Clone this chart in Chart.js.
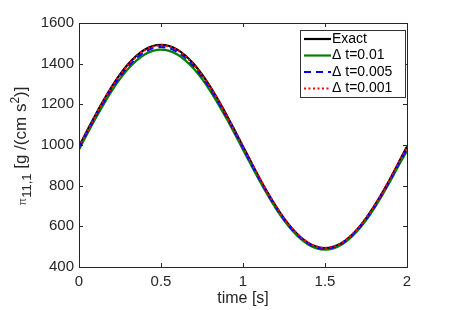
<!DOCTYPE html>
<html>
<head>
<meta charset="utf-8">
<script src="https://cdn.jsdelivr.net/npm/chart.js@4"></script>
<style>
  html, body { margin: 0; padding: 0; background: #fff; }
  #wrap { width: 449px; height: 310px; }
</style>
</head>
<body>
<div id="wrap"><canvas id="chart"></canvas></div>
<script>
const times = [0, 0.05, 0.1, 0.15, 0.2, 0.25, 0.3, 0.35, 0.4, 0.45, 0.5, 0.55, 0.6, 0.65, 0.7, 0.75, 0.8, 0.85, 0.9, 0.95,
  1, 1.05, 1.1, 1.15, 1.2, 1.25, 1.3, 1.35, 1.4, 1.45, 1.5, 1.55, 1.6, 1.65, 1.7, 1.75, 1.8, 1.85, 1.9, 1.95, 2];

const exactVals = [993, 1071, 1148, 1220, 1287, 1347, 1398, 1439, 1469, 1487, 1493, 1487, 1469, 1439, 1398, 1347, 1287, 1220, 1148, 1071,
  993, 915, 838, 766, 699, 639, 588, 547, 517, 499, 493, 499, 517, 547, 588, 639, 699, 766, 838, 915, 993];
const dt01Vals = [977, 1054, 1129, 1200, 1266, 1325, 1375, 1415, 1445, 1463, 1469, 1463, 1445, 1415, 1375, 1325, 1266, 1200, 1129, 1054,
  977, 900, 825, 754, 688, 629, 579, 539, 509, 491, 485, 491, 509, 539, 579, 629, 688, 754, 825, 900, 970];
const dt005Vals = [986, 1064, 1139, 1211, 1278, 1337, 1387, 1428, 1458, 1476, 1482, 1476, 1458, 1428, 1387, 1337, 1278, 1211, 1139, 1064,
  986, 908, 833, 761, 694, 635, 585, 544, 514, 496, 490, 496, 514, 544, 585, 635, 694, 761, 833, 908, 982];
const dt001Vals = [992, 1070, 1146, 1218, 1285, 1344, 1395, 1436, 1466, 1484, 1490, 1484, 1466, 1436, 1395, 1344, 1285, 1218, 1146, 1070,
  992, 914, 838, 766, 699, 640, 589, 548, 518, 500, 494, 500, 518, 548, 589, 640, 699, 766, 838, 914, 990];

const xTicks = [0, 0.5, 1, 1.5, 2];
const yTicks = [400, 600, 800, 1000, 1200, 1400, 1600];
const seriesLabels = ["Exact", "\u0394 t=0.01", "\u0394 t=0.005", "\u0394 t=0.001"];

const axisColor = "#262626";
const fontFam = "'Liberation Sans', Arial, sans-serif";

function toPoints(vals) {
  return times.map((t, i) => ({ x: t, y: vals[i] }));
}

const seriesStyles = [
  { color: "#000000", dash: [], width: 2.2, order: 4 },
  { color: "#008000", dash: [], width: 2.2, order: 3 },
  { color: "#0000ff", dash: [7, 5], width: 2.2, order: 2 },
  { color: "#ff0000", dash: [2, 2.5], width: 2.2, order: 1 }
];
const seriesVals = [exactVals, dt01Vals, dt005Vals, dt001Vals];

const datasets = seriesVals.map((vals, i) => ({
  label: seriesLabels[i],
  data: toPoints(vals),
  borderColor: seriesStyles[i].color,
  borderDash: seriesStyles[i].dash,
  borderWidth: seriesStyles[i].width,
  pointRadius: 0,
  tension: 0.3,
  fill: false,
  order: seriesStyles[i].order
}));

// box, inward ticks, legend and y title in MATLAB style
const matlabDecor = {
  id: "matlabDecor",
  afterDraw(chart) {
    const ctx = chart.ctx;
    const a = chart.chartArea;
    const xs = chart.scales.x;
    const ys = chart.scales.y;
    ctx.save();
    ctx.strokeStyle = axisColor;
    ctx.lineWidth = 1;
    ctx.setLineDash([]);
    ctx.strokeRect(a.left + 0.5, a.top + 0.5, a.right - a.left, a.bottom - a.top);
    const tl = 4;
    ctx.beginPath();
    xTicks.forEach((v) => {
      const px = Math.round(xs.getPixelForValue(v)) + 0.5;
      ctx.moveTo(px, a.bottom); ctx.lineTo(px, a.bottom - tl);
      ctx.moveTo(px, a.top); ctx.lineTo(px, a.top + tl);
    });
    yTicks.forEach((v) => {
      const py = Math.round(ys.getPixelForValue(v)) + 0.5;
      ctx.moveTo(a.left, py); ctx.lineTo(a.left + tl, py);
      ctx.moveTo(a.right, py); ctx.lineTo(a.right - tl, py);
    });
    ctx.stroke();

    // legend
    const lx = 300, ly = 30, lw = 105, lh = 67;
    ctx.fillStyle = "#ffffff";
    ctx.fillRect(lx, ly, lw, lh);
    ctx.strokeStyle = "#333333";
    ctx.strokeRect(lx + 0.5, ly + 0.5, lw, lh);
    ctx.font = "14px " + fontFam;
    ctx.textBaseline = "middle";
    ctx.textAlign = "left";
    seriesLabels.forEach((lab, i) => {
      const y = ly + 9 + i * 16.5;
      ctx.strokeStyle = seriesStyles[i].color;
      ctx.lineWidth = 2.2;
      ctx.setLineDash(seriesStyles[i].dash);
      ctx.beginPath();
      ctx.moveTo(lx + 4, y);
      ctx.lineTo(lx + 31, y);
      ctx.stroke();
      ctx.fillStyle = "#000000";
      ctx.fillText(lab, lx + 32, y);
    });
    ctx.setLineDash([]);

    // y title with sub/superscripts
    ctx.translate(20, 146);
    ctx.rotate(-Math.PI / 2);
    const parts = [
      { t: "\u03c0", size: 11, dy: 0, color: "#555555" },
      { t: "11,1", size: 13, dy: 5, color: axisColor },
      { t: " [g /(cm s", size: 17, dy: 0, color: axisColor },
      { t: "2", size: 12, dy: -7, color: axisColor },
      { t: ")]", size: 17, dy: 0, color: axisColor }
    ];
    let total = 0;
    parts.forEach((p) => {
      ctx.font = p.size + "px " + fontFam;
      p.w = ctx.measureText(p.t).width;
      total += p.w;
    });
    let x = -total / 2;
    ctx.textBaseline = "alphabetic";
    parts.forEach((p) => {
      ctx.font = p.size + "px " + fontFam;
      ctx.fillStyle = p.color;
      ctx.fillText(p.t, x, 6 + p.dy);
      x += p.w;
    });
    ctx.restore();
  }
};

new Chart(document.getElementById("chart"), {
  type: "line",
  data: { datasets },
  options: {
    responsive: true,
    maintainAspectRatio: false,
    animation: false,
    layout: { padding: { left: 0, top: 23, right: 42, bottom: 0 } },
    plugins: { legend: { display: false }, tooltip: { enabled: false } },
    scales: {
      x: {
        type: "linear",
        min: 0,
        max: 2,
        afterBuildTicks: (s) => { s.ticks = xTicks.map((v) => ({ value: v })); },
        afterFit: (s) => { s.height = 43; },
        grid: { display: false, drawTicks: false },
        border: { display: false },
        ticks: {
          color: axisColor,
          padding: 6,
          maxRotation: 0,
          font: { family: fontFam, size: 15 },
          callback: (v) => String(v)
        },
        title: {
          display: true,
          text: "time [s]",
          color: axisColor,
          font: { family: fontFam, size: 16 },
          padding: { top: 0, bottom: 2 }
        }
      },
      y: {
        type: "linear",
        min: 400,
        max: 1600,
        afterBuildTicks: (s) => { s.ticks = yTicks.map((v) => ({ value: v })); },
        afterFit: (s) => { s.width = 79; },
        grid: { display: false, drawTicks: false },
        border: { display: false },
        ticks: {
          color: axisColor,
          padding: 5,
          font: { family: fontFam, size: 15 },
          callback: (v) => String(v)
        }
      }
    }
  },
  plugins: [matlabDecor]
});
</script>
</body>
</html>
